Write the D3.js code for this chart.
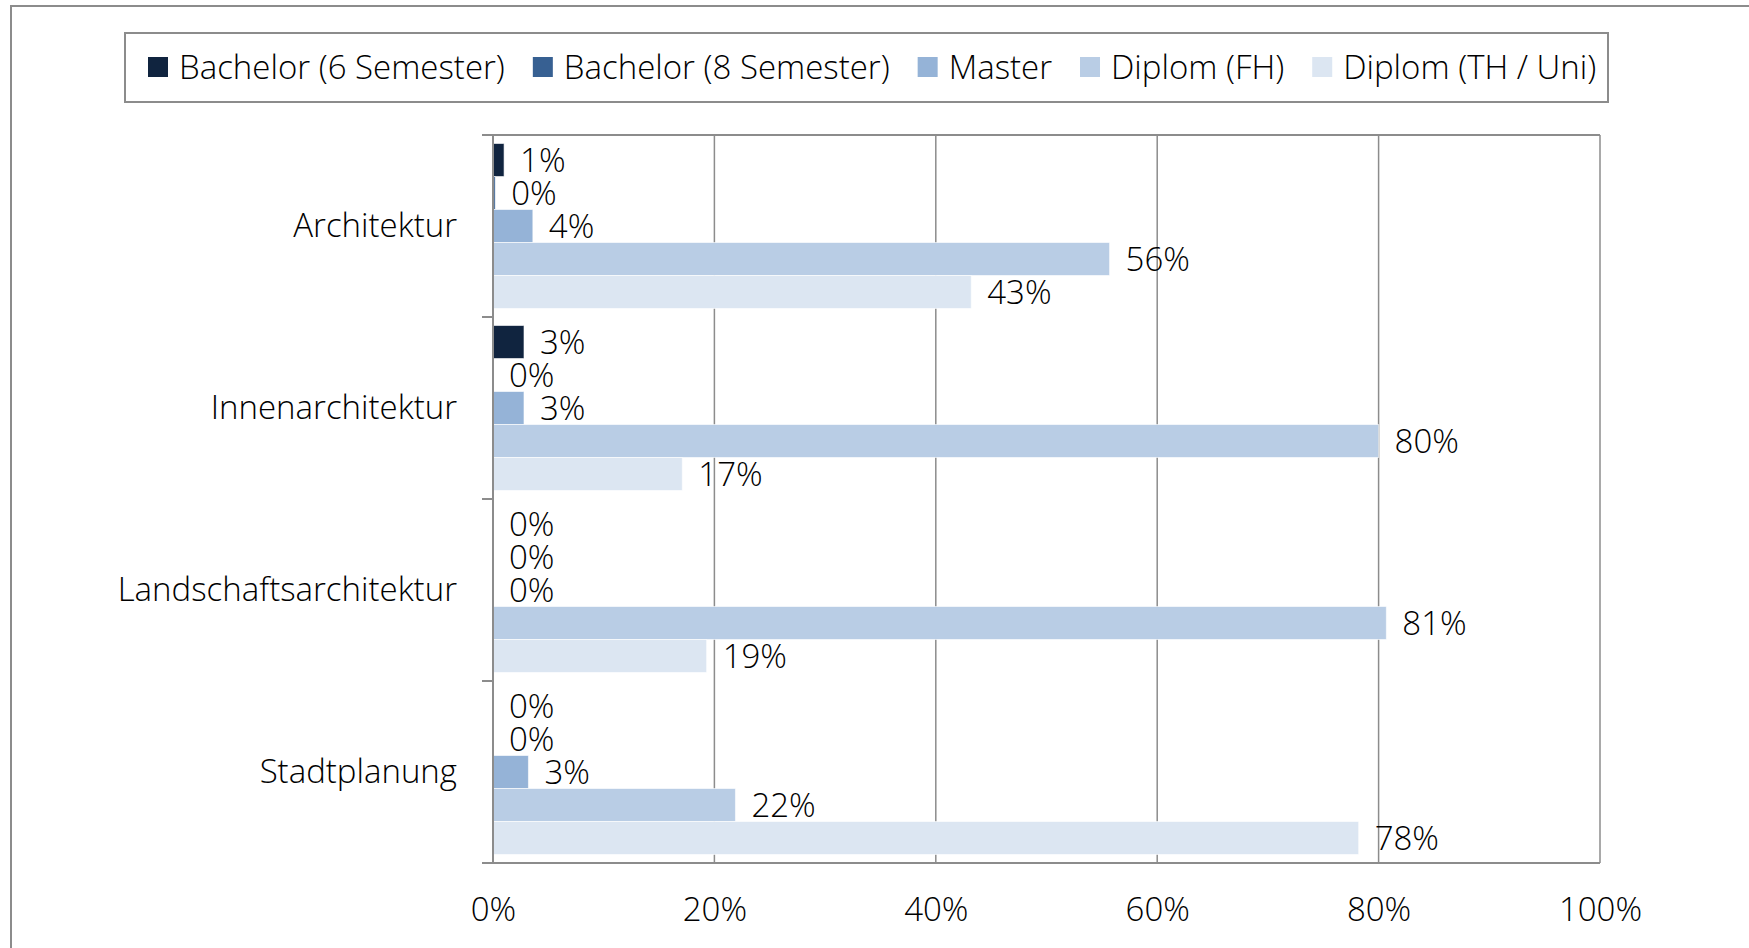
<!DOCTYPE html>
<html>
<head>
<meta charset="utf-8">
<script src="https://cdn.jsdelivr.net/npm/d3@7"></script>
<style>
  body { margin: 0; background: #fff; }
  svg text { font-family: "Open Sans", sans-serif; font-weight: 300; fill: #000; }
</style>
</head>
<body>
<svg id="chart"></svg>
<script>
const categories = ["Architektur", "Innenarchitektur", "Landschaftsarchitektur", "Stadtplanung"];
const series = ["Bachelor (6 Semester)", "Bachelor (8 Semester)", "Master", "Diplom (FH)", "Diplom (TH / Uni)"];
const bachelor6 = [1.0, 2.8, 0, 0];
const bachelor8 = [0.2, 0, 0, 0];
const master = [3.6, 2.8, 0, 3.2];
const diplomFH = [55.7, 80.0, 80.7, 21.9];
const diplomTH = [43.2, 17.1, 19.3, 78.2];
const tickValues = [0, 20, 40, 60, 80, 100];
const colors = ["#10243F", "#376092", "#95B3D7", "#B9CDE5", "#DCE6F2"];

const width = 1749;
const height = 948;
const plot = { left: 493, right: 1600, top: 135, bottom: 863 };
const fontSize = 33;
const grey = "#8c8c8c";

const seriesValues = [bachelor6, bachelor8, master, diplomFH, diplomTH];
const data = categories.map((c, i) => ({
  category: c,
  values: series.map((s, j) => ({ key: s, value: seriesValues[j][i] })),
}));

const svg = d3.select("#chart").attr("width", width).attr("height", height);

// outer frame
svg.append("rect")
  .attr("x", 11).attr("y", 6)
  .attr("width", width).attr("height", height)
  .attr("fill", "none").attr("stroke", grey).attr("stroke-width", 2);

const x = d3.scaleLinear().domain([0, 100]).range([plot.left, plot.right]);
const y = d3.scaleBand().domain(categories).range([plot.top, plot.bottom]);
const ySub = d3.scaleBand().domain(series).range([0, y.bandwidth()]).paddingOuter(0.258);

// gridlines
svg.append("g")
  .selectAll("line")
  .data(tickValues.slice(1))
  .enter()
  .append("line")
  .attr("x1", (d) => x(d)).attr("x2", (d) => x(d))
  .attr("y1", plot.top).attr("y2", plot.bottom)
  .attr("stroke", grey).attr("stroke-width", 1.5);

// top border
svg.append("line")
  .attr("x1", plot.left).attr("x2", plot.right)
  .attr("y1", plot.top).attr("y2", plot.top)
  .attr("stroke", grey).attr("stroke-width", 2);

// bars
const group = svg.selectAll(".cat")
  .data(data)
  .enter()
  .append("g")
  .attr("class", "cat")
  .attr("transform", (d) => `translate(0, ${y(d.category)})`);

group.selectAll("rect")
  .data((d) => d.values)
  .enter()
  .append("rect")
  .attr("x", x(0))
  .attr("y", (d) => ySub(d.key))
  .attr("width", (d) => x(d.value) - x(0))
  .attr("height", ySub.bandwidth())
  .attr("fill", (d, i) => colors[i])
  .attr("stroke", "rgba(255,255,255,0.6)")
  .attr("stroke-width", 1);

group.selectAll("text")
  .data((d) => d.values)
  .enter()
  .append("text")
  .attr("x", (d) => x(d.value) + 16)
  .attr("y", (d) => ySub(d.key) + ySub.bandwidth() / 2)
  .attr("dy", "0.35em")
  .style("font-size", fontSize + "px")
  .text((d) => Math.round(d.value) + "%");

// category axis
const yAxis = svg.append("g")
  .attr("transform", `translate(${plot.left}, 0)`)
  .call(d3.axisLeft(y).tickSize(0).tickPadding(36));
yAxis.select(".domain").remove();
yAxis.selectAll("text").style("font-size", fontSize + "px").attr("fill", "#000");

// category tick marks at band edges
const edges = categories.map((c) => y(c)).concat([plot.bottom]);
svg.append("g")
  .selectAll("line")
  .data(edges)
  .enter()
  .append("line")
  .attr("x1", plot.left - 11).attr("x2", plot.left)
  .attr("y1", (d) => d).attr("y2", (d) => d)
  .attr("stroke", grey).attr("stroke-width", 2);

svg.append("line")
  .attr("x1", plot.left).attr("x2", plot.left)
  .attr("y1", plot.top).attr("y2", plot.bottom)
  .attr("stroke", grey).attr("stroke-width", 2);

// value axis
const xAxis = svg.append("g")
  .attr("transform", `translate(0, ${plot.bottom})`)
  .call(d3.axisBottom(x).tickValues(tickValues).tickFormat((d) => d + "%").tickSize(0).tickPadding(35));
xAxis.select(".domain").remove();
xAxis.selectAll("text").style("font-size", fontSize + "px").attr("fill", "#000");

svg.append("line")
  .attr("x1", plot.left - 11).attr("x2", plot.right)
  .attr("y1", plot.bottom).attr("y2", plot.bottom)
  .attr("stroke", grey).attr("stroke-width", 2);

// legend
const legend = svg.append("g");
legend.append("rect")
  .attr("x", 125).attr("y", 33)
  .attr("width", 1483).attr("height", 69)
  .attr("fill", "none").attr("stroke", grey).attr("stroke-width", 2);

let lx = 148;
series.forEach((s, i) => {
  legend.append("rect")
    .attr("x", lx).attr("y", 57)
    .attr("width", 20).attr("height", 20)
    .attr("fill", colors[i]);
  const t = legend.append("text")
    .attr("x", lx + 31).attr("y", 67.5)
    .attr("dy", "0.35em")
    .style("font-size", fontSize + "px")
    .text(s);
  lx += 31 + t.node().getComputedTextLength() + 28;
});
</script>
</body>
</html>
